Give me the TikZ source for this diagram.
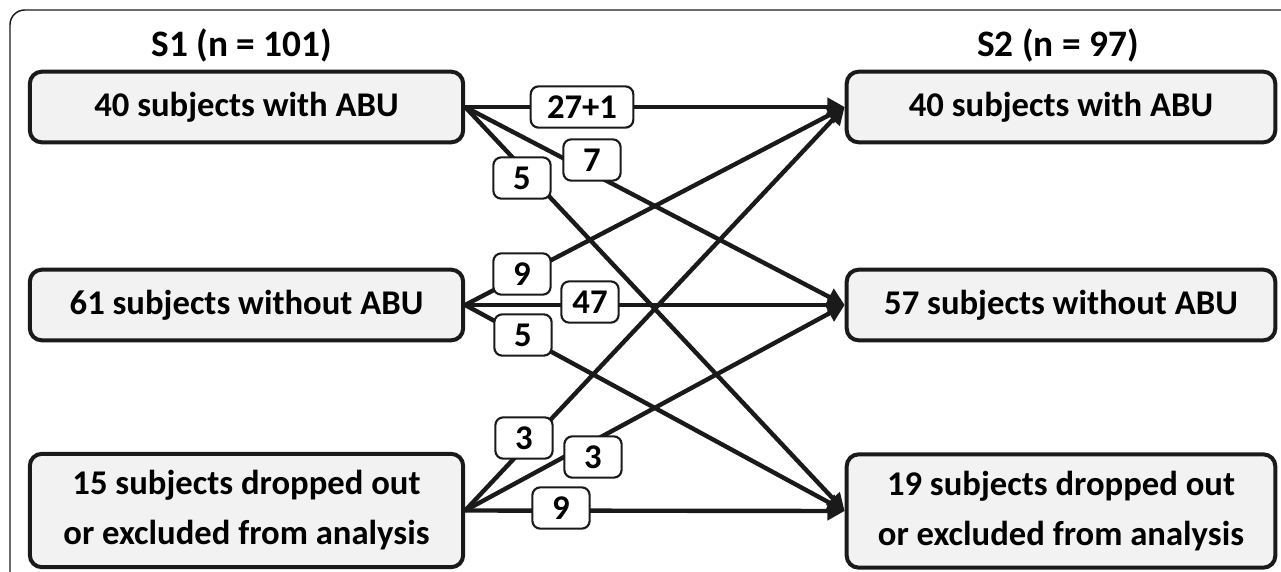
\documentclass[tikz,border=0pt]{standalone}
\usepackage{fontspec}
\setmainfont{Carlito}
\usetikzlibrary{arrows.meta,positioning}
\definecolor{boxgray}{RGB}{242,242,242}
\definecolor{ink}{RGB}{26,26,26}
\newcommand{\cntfont}{\bfseries\fontsize{26}{37.5}\selectfont}
\tikzset{
  grp/.style={draw=ink, line width=3pt, fill=boxgray, rounded corners=9pt,
    align=center, inner sep=0pt, font=\cntfont},
  cnt/.style={draw=ink, line width=1.6pt, fill=white, rounded corners=6pt,
    inner sep=0pt, minimum width=43pt, minimum height=31pt, font=\cntfont},
  hdr/.style={inner sep=0pt, font=\bfseries\fontsize{28}{34}\selectfont},
  flow/.style={draw=ink, line width=3.3pt, -{Triangle[length=13pt,width=13.5pt]}},
  frame/.style={draw=ink, line width=1.1pt, rounded corners=11pt}
}
\begin{document}
\begin{tikzpicture}[x=0.75pt,y=0.75pt,yscale=-1,xscale=1]
            \useasboundingbox (0,0) rectangle (1281,571);
            \clip (0,0) rectangle (1281,571);

            %Shape: outer frame
            \draw [frame] (10,620) -- (10,10) -- (1320,10) ;

            % Text Node
            \node [hdr] (s1) at (242,45) {S1 (n = 101)};
            % Text Node
            \node [hdr] (s2) at (1058,45) {S2 (n = 97)};

            %Shape: left boxes
            \node [grp, minimum width=325pt, minimum height=53pt] (l1) at (246.5,107) {40 subjects with ABU};
            \node [grp, minimum width=325pt, minimum height=53pt] (l2) at (246.5,305) {61 subjects without ABU};
            \node [grp, minimum width=325pt, minimum height=85pt] (l3) at (246.5,510.5) {15 subjects dropped out\\or excluded from analysis};

            %Shape: right boxes
            \node [grp, minimum width=321.5pt, minimum height=53pt] (r1) at (1061,107) {40 subjects with ABU};
            \node [grp, minimum width=321.5pt, minimum height=53pt] (r2) at (1061,305) {57 subjects without ABU};
            \node [grp, minimum width=321.5pt, minimum height=85pt] (r3) at (1061,511) {19 subjects dropped out\\or excluded from analysis};

            %Straight Lines
            \draw [flow] (l1.east) -- (r1.west) ;
            \draw [flow] (l1.east) -- (r2.west) ;
            \draw [flow] (l1.east) -- (r3.west) ;
            \draw [flow] (l2.east) -- (r1.west) ;
            \draw [flow] (l2.east) -- (r2.west) ;
            \draw [flow] (l2.east) -- (r3.west) ;
            \draw [flow] (l3.east) -- (r1.west) ;
            \draw [flow] (l3.east) -- (r2.west) ;
            \draw [flow] (l3.east) -- (r3.west) ;

            % Text Node
            \node [cnt, minimum width=77pt] (c11) at (582,107) {27+1};
            \node [cnt] (c12) at (592,160) {7};
            \node [cnt] (c13) at (522,178) {5};
            \node [cnt] (c21) at (522,274) {9};
            \node [cnt] (c22) at (590,302) {47};
            \node [cnt] (c23) at (523,335) {5};
            \node [cnt] (c31) at (524,438) {3};
            \node [cnt] (c32) at (593,457) {3};
            \node [cnt] (c33) at (561,508) {9};

\end{tikzpicture}
\end{document}
